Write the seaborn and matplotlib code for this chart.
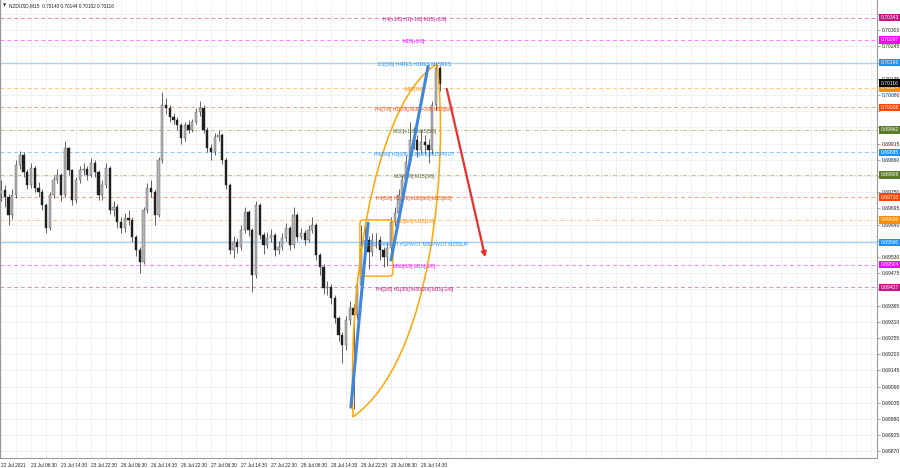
import numpy as np
import pandas as pd
import matplotlib
matplotlib.use("Agg")
import matplotlib.pyplot as plt
import seaborn as sns
from matplotlib.path import Path
from matplotlib.patches import PathPatch, FancyBboxPatch, FancyArrowPatch

sns.set_theme(style="white")
plt.rcParams['font.family'] = ['Liberation Sans', 'DejaVu Sans']

# ---------------- data (H1 aggregation of the M15 chart) ----------------
title_text = "NZDUSD,M15  0.70140 0.70144 0.70102 0.70116"
first_open = 0.69745
closes = [0.69757,0.69733,0.69672,0.69740,0.69842,0.69876,0.69818,0.69774,0.69832,0.69764,
          0.69750,0.69706,0.69628,0.69740,0.69791,0.69808,0.69740,0.69900,0.69825,0.69723,
          0.69791,0.69825,0.69830,0.69808,0.69849,0.69818,0.69740,0.69774,0.69832,0.69689,
          0.69699,0.69648,0.69628,0.69662,0.69655,0.69597,0.69553,0.69512,0.69689,0.69764,
          0.69750,0.69672,0.69859,0.70046,0.70036,0.70005,0.69995,0.69978,0.69934,0.69978,
          0.69961,0.69988,0.70022,0.70036,0.69961,0.69900,0.69886,0.69937,0.69944,0.69859,
          0.69774,0.69553,0.69580,0.69563,0.69621,0.69682,0.69621,0.69468,0.69706,0.69604,
          0.69570,0.69594,0.69604,0.69553,0.69563,0.69594,0.69628,0.69570,0.69672,0.69597,
          0.69611,0.69587,0.69621,0.69638,0.69536,0.69495,0.69424,0.69427,0.69390,0.69322,
          0.69264,0.69230,0.69315,0.69356,0.69332,0.69434,0.69560,0.69587,0.69546,0.69587,
          0.69587,0.69553,0.69529,0.69560,0.69648,0.69679,0.69740,0.69791,0.69852,0.69927,
          0.69927,0.69893,0.69920,0.69910,0.69893,0.70046,0.70171,0.70116]
highs = [0.69790,0.69775,0.69745,0.69760,0.69860,0.69890,0.69885,0.69830,0.69850,0.69840,
         0.69785,0.69760,0.69715,0.69750,0.69805,0.69830,0.69815,0.69925,0.69905,0.69830,
         0.69800,0.69840,0.69850,0.69840,0.69865,0.69860,0.69825,0.69790,0.69850,0.69840,
         0.69720,0.69710,0.69665,0.69680,0.69690,0.69665,0.69605,0.69565,0.69700,0.69780,
         0.69790,0.69760,0.69870,0.70090,0.70070,0.70045,0.70020,0.70005,0.69985,0.69990,
         0.69995,0.70000,0.70035,0.70060,0.70045,0.69970,0.69915,0.69950,0.69960,0.69950,
         0.69865,0.69780,0.69600,0.69595,0.69640,0.69700,0.69690,0.69630,0.69720,0.69712,
         0.69615,0.69615,0.69625,0.69612,0.69585,0.69610,0.69645,0.69635,0.69700,0.69680,
         0.69630,0.69620,0.69640,0.69665,0.69645,0.69545,0.69505,0.69450,0.69440,0.69400,
         0.69330,0.69275,0.69330,0.69380,0.69370,0.69450,0.69640,0.69650,0.69600,0.69610,
         0.69610,0.69600,0.69565,0.69580,0.69665,0.69700,0.69760,0.69810,0.69875,0.69990,
         0.69970,0.69945,0.69960,0.69945,0.69930,0.70060,0.70189,0.70180]
lows = [0.69720,0.69700,0.69640,0.69660,0.69730,0.69830,0.69800,0.69760,0.69765,0.69750,
        0.69735,0.69690,0.69610,0.69620,0.69730,0.69780,0.69720,0.69735,0.69810,0.69705,
        0.69715,0.69780,0.69810,0.69790,0.69800,0.69800,0.69725,0.69725,0.69765,0.69675,
        0.69670,0.69630,0.69610,0.69615,0.69640,0.69580,0.69535,0.69475,0.69505,0.69680,
        0.69735,0.69640,0.69665,0.69850,0.70015,0.69990,0.69980,0.69960,0.69915,0.69925,
        0.69950,0.69955,0.69980,0.70010,0.69950,0.69885,0.69860,0.69875,0.69925,0.69845,
        0.69760,0.69540,0.69525,0.69545,0.69555,0.69610,0.69600,0.69410,0.69460,0.69590,
        0.69540,0.69560,0.69580,0.69535,0.69540,0.69555,0.69585,0.69555,0.69560,0.69585,
        0.69590,0.69570,0.69580,0.69610,0.69520,0.69470,0.69405,0.69400,0.69370,0.69305,
        0.69245,0.69169,0.69215,0.69300,0.69015,0.69320,0.69425,0.69540,0.69490,0.69535,
        0.69560,0.69520,0.69495,0.69500,0.69550,0.69635,0.69670,0.69730,0.69780,0.69845,
        0.69895,0.69870,0.69880,0.69880,0.69849,0.69880,0.70030,0.70095]
opens = [first_open] + closes[:-1]

x_tick_hours = [0, 8, 16, 24, 32, 40, 48, 56, 64, 72, 80, 88, 96, 104, 112]
x_tick_labels = ["22 Jul 2021", "23 Jul 06:30", "23 Jul 14:30", "23 Jul 22:30",
                 "26 Jul 06:30", "26 Jul 14:30", "26 Jul 22:30", "27 Jul 06:30",
                 "27 Jul 14:30", "27 Jul 22:30", "28 Jul 06:30", "28 Jul 14:30",
                 "28 Jul 22:30", "29 Jul 06:30", "29 Jul 14:30"]

level_prices = [0.70343, 0.70267, 0.70190, 0.70104, 0.70038, 0.69962, 0.69885,
                0.69809, 0.69733, 0.69656, 0.69580, 0.69504, 0.69427]
level_labels = ["H4[+1/8] H1[+1/8] M15[+2/8]", "M15[+1/8]", "D1[3/8] H4RES H1RES M15RES",
                "M15[7/8]", "H4[7/8] H1[7/8] M30[+2/8] M15[6/8]", "M30[+1/8] M15[5/8]",
                "H4[6/8] H1[6/8] M30[8/8] M15PIVOT", "M30[7/8] M15[3/8]",
                "H4[5/8] H1[5/8] M30[6/8] M15[2/8]", "M30[5/8] M15[1/8]",
                "D1[2/8] H4PIVOT H1PIVOT M30PIVOT M15SUP", "M30[3/8] M15[-1/8]",
                "H4[3/8] H1[3/8] M30[2/8] M15[-2/8]"]
level_colors = ['#c71585', '#ff00ff', '#1e90ff', '#ff8c00', '#ff4500', '#6b8e23', '#1e90ff',
                '#6b8e23', '#ff4500', '#ff8c00', '#1e90ff', '#ff00ff', '#c71585']
level_styles = ['--', '--', '-', '--', '--', '-.', '--', '-.', '--', '-.', '-', '--', '--']
current_price = 0.70116

# drawing objects (anchors in hour / price)
blue_lines = pd.DataFrame({
    "seg": ["a", "a", "b", "b"],
    "hour": [93.3, 97.9, 104.0, 113.9],
    "price": [0.69020, 0.69645, 0.69520, 0.70178],
})
ellipse_left = [(93.87, 0.68987), (92.3, 0.69554), (102.0, 0.70080), (116.27, 0.70185)]
ellipse_right = [(119.4, 0.69859), (115.2, 0.69180), (93.87, 0.68987)]
box_hours = (95.7, 104.5)
box_prices = (0.69465, 0.69656)
arrow_start = (118.7, 0.70110)
arrow_end = (129.3, 0.69520)

# ---------------- figure ----------------
W, H = 900, 468
fig = plt.figure(figsize=(9, 4.68), dpi=100)
ax = fig.add_axes([0.0, 1 - 458 / H, 877 / W, 458 / H])
ax.set_facecolor('white')

ax.set_xlim(-0.27, 233.6)
ax.set_ylim(0.688476, 0.704025)

# grid / ticks
ax.set_xticks(x_tick_hours)
ax.set_xticklabels(x_tick_labels, ha='left', fontsize=3.4, color='#222222')
ax.set_xticks(np.arange(0, 234, 4), minor=True)
yt = np.round(0.70355 - 0.00055 * np.arange(28), 5)
box_vals = level_prices + [current_price]
ax.yaxis.tick_right()
ax.set_yticks(yt)
ax.set_yticklabels([f"{v:.5f}" if min(abs(v - b) for b in box_vals) > 0.00013 else ""
                    for v in yt], fontsize=3.6, color='#222222')
ax.grid(which='both', color='#ececec', lw=0.5)
ax.tick_params(axis='x', which='major', length=2, width=0.5, pad=1.5, color='#888888')
ax.tick_params(axis='x', which='minor', length=0)
ax.tick_params(axis='y', length=2, width=0.5, pad=1.5, color='#888888')
ax.spines['top'].set_visible(False)
for side in ['left', 'right', 'bottom']:
    ax.spines[side].set_color('#9a9a9a')
    ax.spines[side].set_linewidth(0.8)

# level lines + labels
for p, lab, col, ls in zip(level_prices, level_labels, level_colors, level_styles):
    if ls == '-':
        ax.axhline(p, color='#a9d2f3', lw=1.0, ls='-', zorder=1)
    else:
        ax.axhline(p, color=col, lw=0.7, ls=ls, alpha=0.5, zorder=1,
                   dashes=(4, 3) if ls == '--' else (4, 2, 1, 2))
    tcol = '#556b2f' if col == '#6b8e23' else col
    ax.text(110.2, p - 0.00006, lab, fontsize=3.6, color=tcol, ha='center', va='center', zorder=6)
    bcol = '#5a7a2a' if col == '#6b8e23' else col
    ax.text(1.004, p, f"{p:.5f}", transform=ax.get_yaxis_transform(), fontsize=3.6,
            color='white', ha='left', va='center', clip_on=False, zorder=10,
            bbox=dict(boxstyle='square,pad=0.25', fc=bcol, ec='none'))
ax.text(1.004, current_price + 0.00004, f"{current_price:.5f}", transform=ax.get_yaxis_transform(),
        fontsize=3.6, color='white', ha='left', va='center', clip_on=False, zorder=11,
        bbox=dict(boxstyle='square,pad=0.25', fc='black', ec='none'))

# candles
xs = np.arange(len(closes))
o = np.array(opens); c = np.array(closes)
ax.vlines(xs, lows, highs, color='#4a4a4a', lw=0.6, zorder=3)
up = c >= o
bot = np.minimum(o, c)
hgt = np.maximum(np.abs(c - o), 0.000015)
ax.bar(xs[up], hgt[up], bottom=bot[up], width=0.55, color='#b5b5b5', edgecolor='#555555',
       lw=0.3, zorder=4)
ax.bar(xs[~up], hgt[~up], bottom=bot[~up], width=0.55, color='#1f1f1f', edgecolor='#1f1f1f',
       lw=0.3, zorder=4)

# orange ellipse-like arc
verts = [ellipse_left[0], ellipse_left[1], ellipse_left[2], ellipse_left[3],
         ellipse_right[0], ellipse_right[1], ellipse_right[2]]
codes = [Path.MOVETO, Path.CURVE4, Path.CURVE4, Path.CURVE4, Path.CURVE4, Path.CURVE4, Path.CURVE4]
ax.add_patch(PathPatch(Path(verts, codes), fc='none', ec='#ffa500', lw=1.1, zorder=5))

# orange rounded rectangle
ax.add_patch(FancyBboxPatch((box_hours[0], box_prices[0]), box_hours[1] - box_hours[0],
                            box_prices[1] - box_prices[0],
                            boxstyle='round,pad=0,rounding_size=1.0', mutation_aspect=1.3e-4,
                            fc='none', ec='#ffa500', lw=1.0, zorder=5))

# blue trend lines
sns.lineplot(data=blue_lines, x="hour", y="price", units="seg", estimator=None,
             color='#3f87dc', lw=2.2, ax=ax, zorder=6, legend=False)
ax.set_xlabel(''); ax.set_ylabel('')

# red arrow
ax.add_patch(FancyArrowPatch(arrow_start, arrow_end, arrowstyle='-|>', mutation_scale=7,
                             color='#e8302c', lw=1.6, zorder=7))

# title
ax.text(0.003, 0.992, "\u25BC", transform=ax.transAxes, fontsize=3, ha='left', va='top',
        family=['DejaVu Sans'], color='#222222')
ax.text(0.010, 0.993, title_text, transform=ax.transAxes, fontsize=3.4, ha='left', va='top',
        color='#222222')

fig.savefig("out.png", dpi=100)
